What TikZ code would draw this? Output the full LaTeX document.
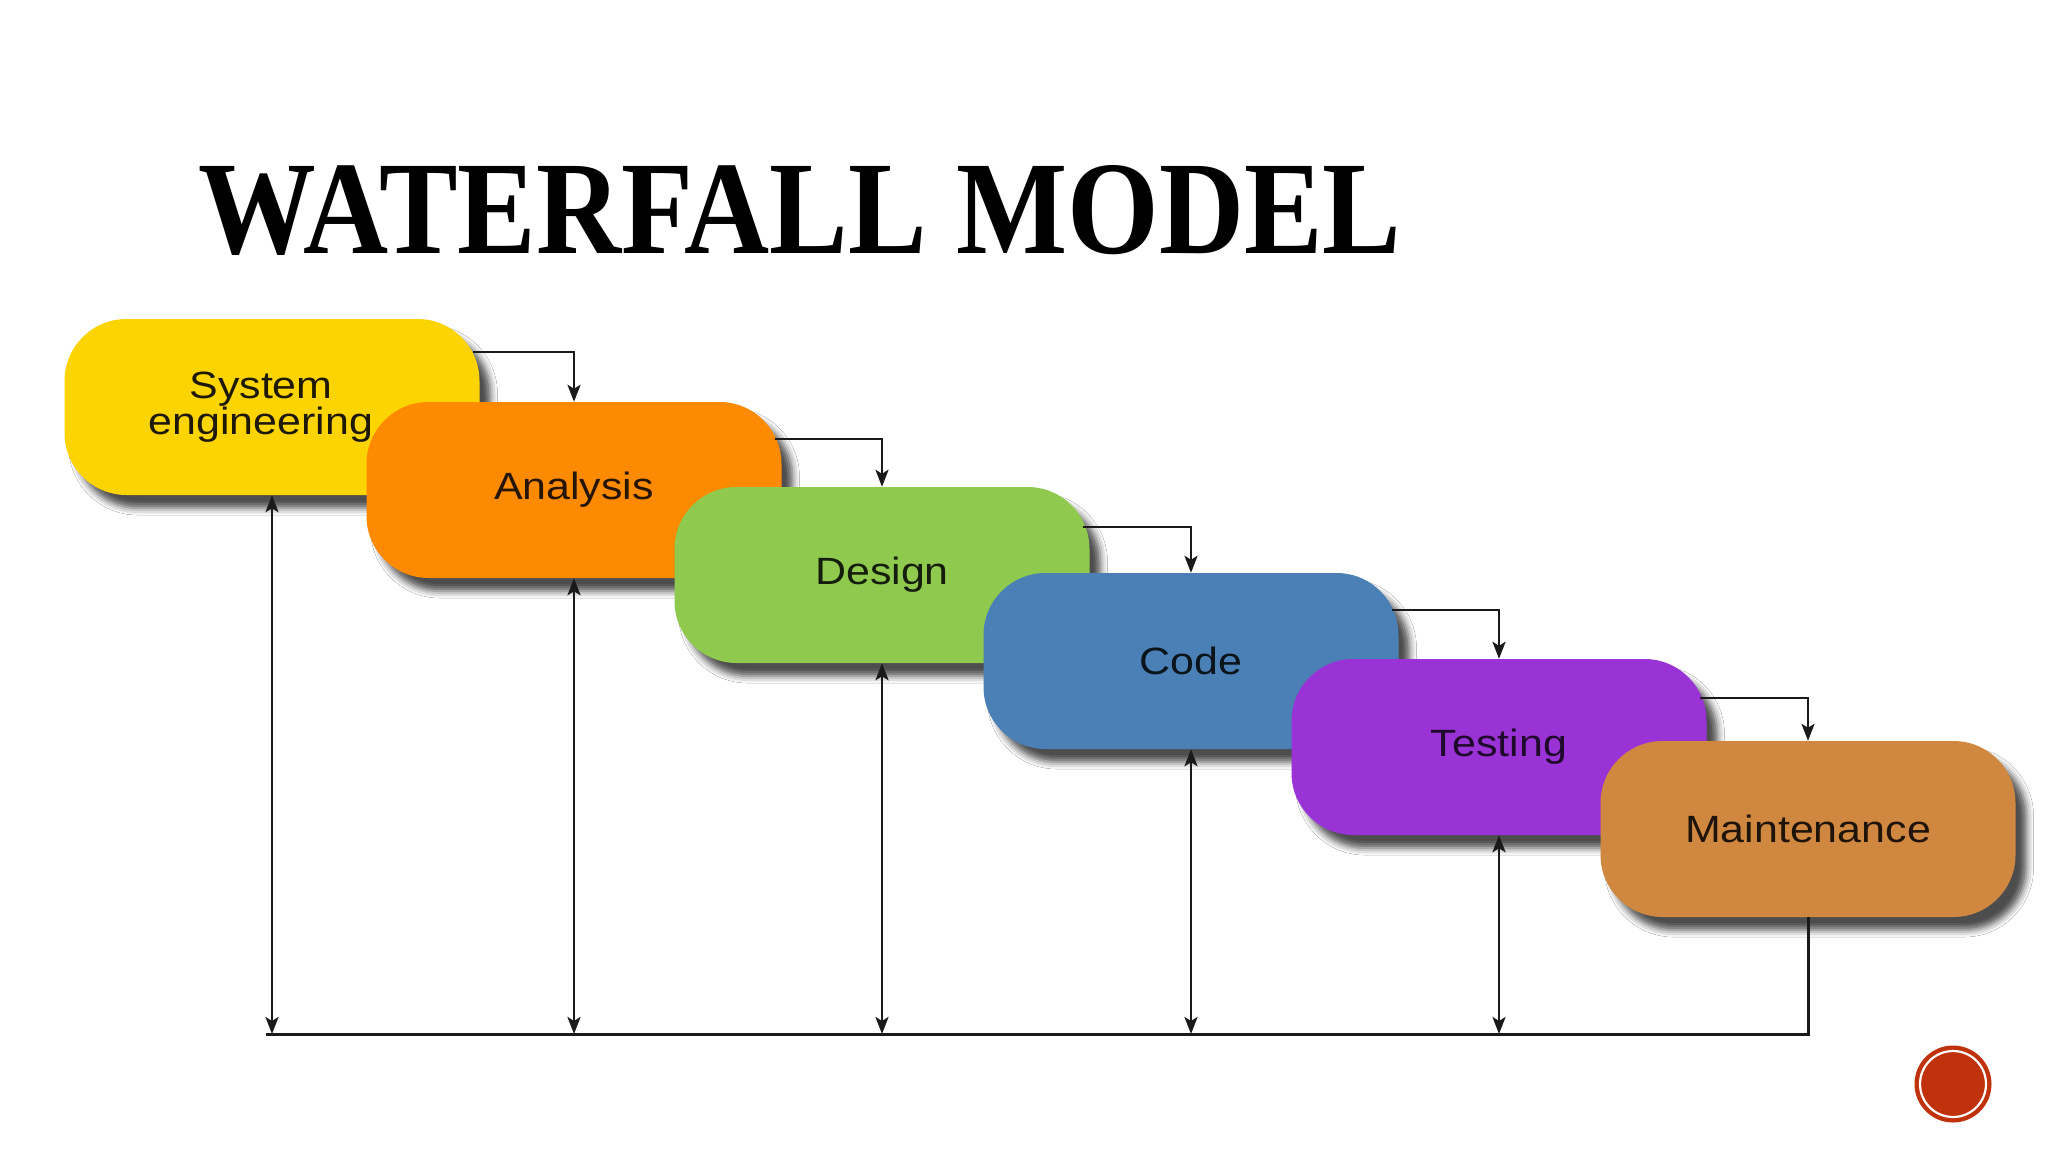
\documentclass[tikz,border=0pt]{standalone}
\usepackage{fontspec}
\newfontfamily\lblfont{Liberation Sans}[FakeStretch=1.13]
\newfontfamily\titlefont{Liberation Serif}
\usetikzlibrary{arrows.meta,shadows.blur}
\definecolor{cyel}{HTML}{FCD402}
\definecolor{cora}{HTML}{FE8A02}
\definecolor{cgre}{HTML}{8FCA4F}
\definecolor{cblu}{HTML}{4A80B6}
\definecolor{cpur}{HTML}{9A33D6}
\definecolor{cbro}{HTML}{D08840}
\definecolor{cred}{HTML}{C0320C}
\definecolor{lnc}{HTML}{1A1A1A}
\tikzset{
  phase/.style={rounded corners=62pt, minimum width=415pt, minimum height=176pt,
    inner sep=0pt, align=center, font=\lblfont\fontsize{38}{33.5}\selectfont,
    blur shadow={shadow xshift=11pt, shadow yshift=-13pt, shadow blur radius=7pt, shadow opacity=70}},
  conn/.style={draw=lnc, line width=2.8pt, -{Stealth[length=17pt,width=13pt,inset=4pt]}},
  dconn/.style={draw=lnc, line width=2.8pt, {Stealth[length=17pt,width=13pt,inset=4pt]}-{Stealth[length=17pt,width=13pt,inset=4pt]}},
  plain/.style={draw=lnc, line width=3pt}
}
\begin{document}
\begin{tikzpicture}[x=1pt,y=-1pt]
\useasboundingbox[fill=white] (0,0) rectangle (2048,1152);
\node[anchor=south west, inner sep=0pt] (title) at (198,256)
  {\resizebox{1203pt}{88pt}{\titlefont\bfseries WATERFALL MODEL}};
\node[phase, fill=cyel, text=black!80!cyel!60!black] (sys) at (272,407)
  {System\hspace*{22pt}\\engineering\hspace*{22pt}};
\node[phase, fill=cora, text=black!85!cora] (ana) at (574,490) {Analysis};
\node[phase, fill=cgre, text=black!85!cgre] (des) at (882,575) {Design};
\node[phase, fill=cblu, text=black!85!cblu] (cod) at (1191,661) {Code};
\node[phase, fill=cpur, text=black!80!cpur] (tes) at (1499,747) {Testing};
\node[phase, fill=cbro, text=black!85!cbro] (mai) at (1808,829) {Maintenance};
\coordinate (bl) at (266,1034);
\draw[conn] ([xshift=-7pt,yshift=55pt]sys.east) -| (ana.north);
\draw[conn] ([xshift=-7pt,yshift=51pt]ana.east) -| (des.north);
\draw[conn] ([xshift=-7pt,yshift=48pt]des.east) -| (cod.north);
\draw[conn] ([xshift=-7pt,yshift=51pt]cod.east) -| (tes.north);
\draw[conn] ([xshift=-7pt,yshift=49pt]tes.east) -| (mai.north);
\draw[plain] (mai.south) |- (bl);
\draw[dconn] (sys.south) -- (sys.south |- bl);
\draw[dconn] (ana.south) -- (ana.south |- bl);
\draw[dconn] (des.south) -- (des.south |- bl);
\draw[dconn] (cod.south) -- (cod.south |- bl);
\draw[dconn] (tes.south) -- (tes.south |- bl);
\node[circle, fill=cred, minimum size=77pt, inner sep=0pt] (dot) at (1953,1084) {};
\draw[white, line width=2.2pt] (dot.center) circle (33pt);
\end{tikzpicture}
\end{document}
